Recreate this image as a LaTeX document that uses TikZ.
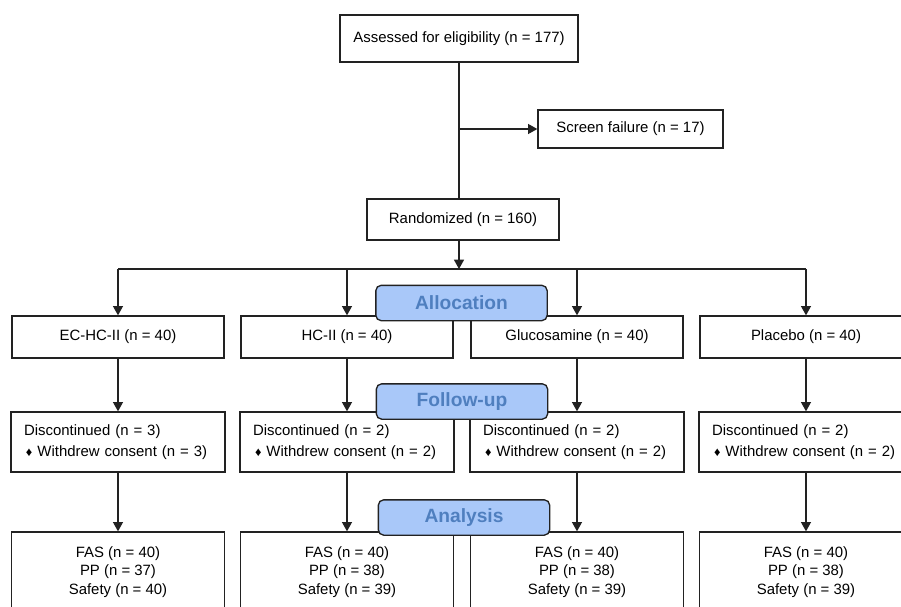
\documentclass[tikz,border=0pt]{standalone}
\usepackage{fontspec}
\setmainfont{Liberation Sans}
\usepackage{tikz}
\usetikzlibrary{positioning,shapes,arrows,arrows.meta,calc}
\definecolor{phasefill}{HTML}{A9C8F9}
\definecolor{phasetext}{HTML}{4F7FBF}
\definecolor{linegray}{HTML}{222222}

\begin{document}
\begin{tikzpicture}[
  x=0.75pt, y=-0.75pt,
  line/.style={
    line width=1pt,
    draw=linegray,
  },
  arrow/.style={
    line, -{Triangle[length=7pt, width=7.5pt]},
  },
  box/.style={
    line, fill=white, inner sep=0pt,
    font=\fontsize{11.2}{13.5}\selectfont,
  },
  discbox/.style={
    box, minimum width=160.5pt, minimum height=45pt,
    text width=141pt, align=left,
    font=\fontsize{11.2}{15.75}\selectfont,
  },
  popbox/.style={
    box, minimum width=160pt, minimum height=60pt,
    align=center, font=\fontsize{11.2}{13.9}\selectfont,
  },
  phase/.style={
    line, fill=phasefill, rounded corners=4pt,
    minimum width=128.5pt, minimum height=26.5pt, inner sep=0pt,
    text=phasetext, font=\fontsize{14.4}{16}\selectfont\bfseries,
  }]
  \useasboundingbox (0,0) rectangle (901,607);
  \clip (0,0) rectangle (901,607);
  \fill[white] (0,0) rectangle (901,607);

  % enrolment
  \node[box, minimum width=178.5pt, minimum height=35.25pt] (elig) at (459,38.5)
    {Assessed for eligibility (n = 177)};
  \node[box, minimum width=138.75pt, minimum height=28.5pt] (fail) at (630.5,129)
    {Screen failure (n = 17)};
  \node[box, minimum width=144pt, minimum height=30.75pt] (rand) at (463,219.5)
    {Randomized (n = 160)};
  \coordinate (split) at (459,269);

  \draw[line] (elig.south) -- (rand.north -| elig.south);
  \draw[arrow] (elig.south |- fail.west) -- (fail.west);
  \draw[arrow] (rand.south -| elig.south) -- (split);

  % the four arms
  \foreach \i/\x/\arm/\nd/\pp/\sf in
  {1/118/EC-HC-II/3/37/40, 2/347/HC-II/2/38/39, 3/577/Glucosamine/2/38/39, 4/806/Placebo/2/38/39}
  {
    \node[box, minimum width=159pt, minimum height=31.5pt] (arm\i) at (\x,337)
      {\arm\ (n = 40)};
    \node[discbox] (disc\i) at (\x,442)
      {\raisebox{-1.5pt}{Discontinued (n = \nd)}\\
       \raisebox{-1.5pt}{\hspace*{1.5pt}{\fontsize{9.5}{9}\selectfont ♦} Withdrew consent (n = \nd)}};
    \node[popbox] (pop\i) at (\x,572)
      {FAS (n = 40)\\PP (n = \pp)\\Safety (n = \sf)};
    \draw[arrow] (arm\i.north |- split) -- (arm\i.north);
    \draw[arrow] (arm\i.south) -- (disc\i.north -| arm\i.south);
    \draw[arrow] (disc\i.south -| arm\i.south) -- (pop\i.north -| arm\i.south);
  }
  \draw[line] (arm1.north |- split) -- (arm4.north |- split);

  % phase labels
  \node[phase] (alloc) at (461.5,303) {Allocation};
  \node[phase] (follow) at (462,401.5) {Follow-up};
  \node[phase] (analysis) at (464,517.5) {Analysis};
\end{tikzpicture}
\end{document}
